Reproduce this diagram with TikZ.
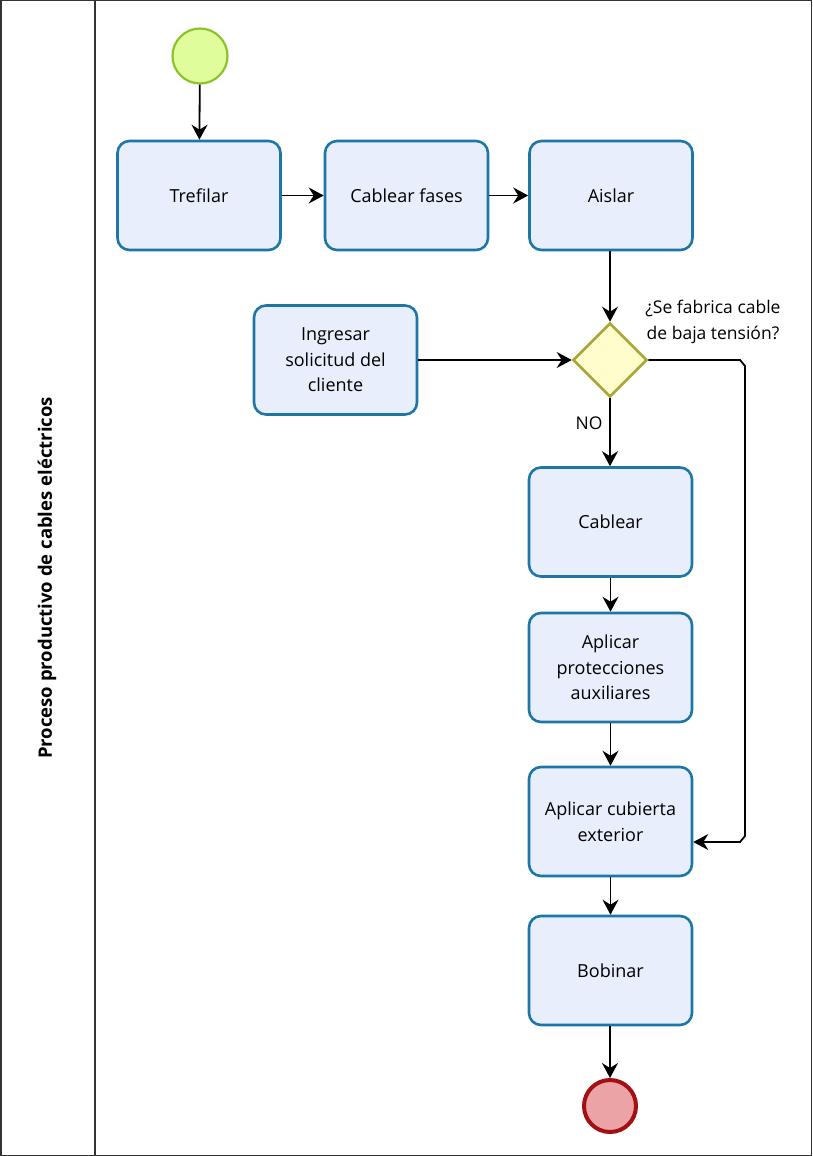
\documentclass[tikz,border=0pt]{standalone}
\usepackage{fontspec}
\setmainfont{Open Sans}
\usetikzlibrary{shapes.geometric,arrows.meta}
\definecolor{taskfill}{HTML}{E8EEFC}
\definecolor{taskline}{HTML}{1C76A6}
\definecolor{startfill}{HTML}{E0FD9C}
\definecolor{startline}{HTML}{8DC32A}
\definecolor{gatefill}{HTML}{FFFDCC}
\definecolor{gateline}{HTML}{A9A735}
\definecolor{endfill}{HTML}{EBA3A6}
\definecolor{endline}{HTML}{A30F12}
\tikzset{
  task/.style={draw=taskline, fill=taskfill, line width=2.6pt, rounded corners=12pt,
    minimum width=163pt, minimum height=109pt, align=center, inner sep=2pt,
    font=\fontsize{18}{25.5}\selectfont},
  startev/.style={circle, draw=startline, fill=startfill, line width=2.2pt, minimum size=55pt, inner sep=0pt},
  endev/.style={circle, draw=endline, fill=endfill, line width=4pt, minimum size=52pt, inner sep=0pt},
  gate/.style={diamond, draw=gateline, fill=gatefill, line width=2.6pt, minimum width=74pt, minimum height=74pt, inner sep=0pt},
  flow/.style={draw=black, line width=1.8pt, -{Stealth[length=15pt,width=16pt,inset=5pt]}},
  lbl/.style={font=\fontsize{17.5}{26}\selectfont, align=center}
}
\begin{document}
\begin{tikzpicture}[x=1pt,y=-1pt]
\useasboundingbox (0,0) rectangle (812,1156);
% pool frame and lane header
\draw[line width=1.5pt, draw=black!80] (0.75,0.75) rectangle (811.25,1155.25);
\draw[line width=1.5pt, draw=black!80] (95,0.75) -- (95,1155.25);
\node[rotate=90, font=\bfseries\fontsize{18.5}{22}\selectfont] (lane) at (47,578) {Proceso productivo de cables eléctricos};

% events, tasks and gateway
\node[startev] (start) at (200,56) {};
\node[task] (trefilar) at (199,195.5) {Trefilar};
\node[task] (fases) at (406.5,195.5) {Cablear fases};
\node[task] (aislar) at (611,195.5) {Aislar};
\node[gate] (gw) at (610,360) {};
\node[task] (ingresar) at (335.5,360) {Ingresar\\solicitud del\\cliente};
\node[task] (cablear) at (610.5,522) {Cablear};
\node[task] (proteccion) at (610.5,667.5) {Aplicar\\protecciones\\auxiliares};
\node[task] (cubierta) at (610.5,821.5) {Aplicar cubierta\\exterior};
\node[task] (bobinar) at (610.5,970.5) {Bobinar};
\node[endev] (fin) at (610,1106) {};

% labels
\node[lbl] (question) at (713,322) {¿Se fabrica cable\\de baja tensión?};
\node[lbl, anchor=east] (no) at (606,423) {NO};

% side route for low-voltage cable
\coordinate (r1) at (740,360);
\coordinate (r2) at (745,366);
\coordinate (r3) at (745,836);
\coordinate (r4) at (740,842);

% sequence flows
\draw[flow] (start) -- (trefilar);
\draw[flow] (trefilar) -- (fases);
\draw[flow] (fases) -- (aislar);
\draw[flow] (aislar.south -| gw.north) -- (gw.north);
\draw[flow] (ingresar) -- (gw.west);
\draw[flow] (gw.south) -- (cablear.north -| gw.south);
\draw[flow] (cablear) -- (proteccion);
\draw[flow] (proteccion) -- (cubierta);
\draw[flow] (gw.east) -- (r1) -- (r2) -- (r3) -- (r4) -- (cubierta.east |- r4);
\draw[flow] (cubierta) -- (bobinar);
\draw[flow] (bobinar.south -| fin.north) -- (fin.north);
\end{tikzpicture}
\end{document}
